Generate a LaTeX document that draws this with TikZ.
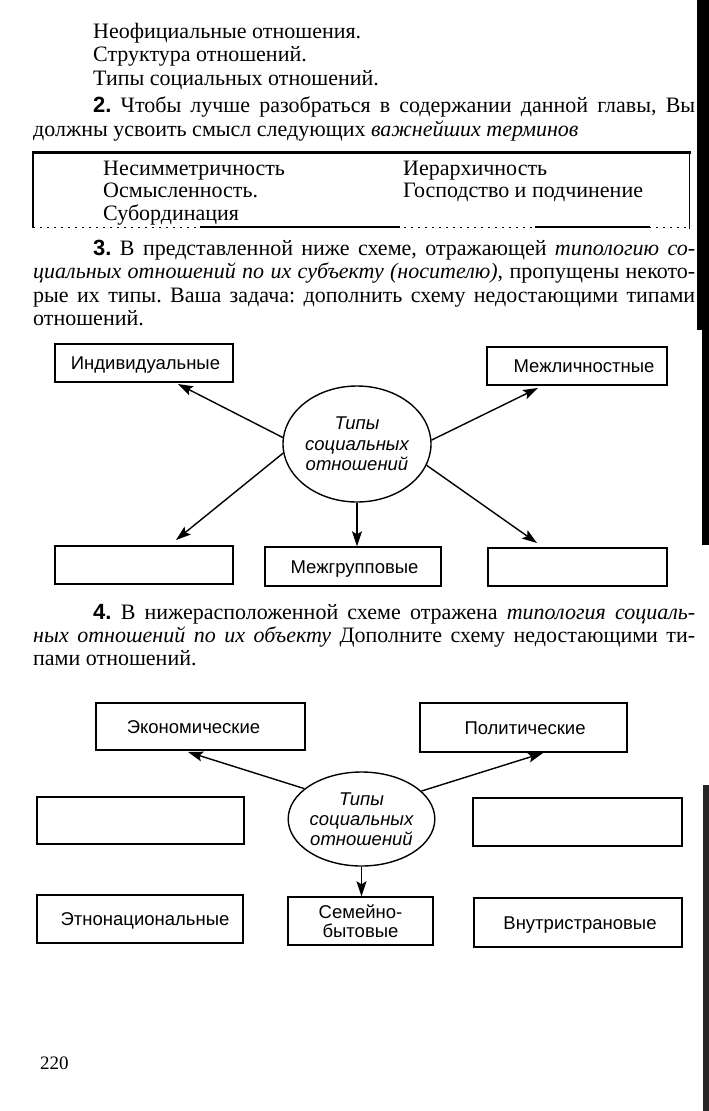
\documentclass[tikz,border=0pt]{standalone}
\usepackage{fontspec}
\setmainfont{Liberation Serif}
\newfontfamily\sansf{Liberation Sans}
\usetikzlibrary{arrows.meta,shapes.geometric}
\frenchspacing
\begin{document}
\begin{tikzpicture}[x=1pt,y=-1pt,
  box/.style={draw, line width=1.4pt, rectangle, inner sep=0pt,
    font=\sansf\fontsize{18.5}{19}\selectfont},
  boxlab/.style={box, text height=13.3pt, text depth=0pt},
  hub/.style={draw, line width=1.4pt, ellipse, inner sep=0pt, align=center,
    font=\sansf\itshape\fontsize{18.5}{20.5}\selectfont},
  conn/.style={line width=1.4pt, -{Stealth[length=15pt,width=10pt,inset=3pt]}},
  body/.style={anchor=base west, inner sep=0pt, font=\fontsize{22}{23}\selectfont}
]
\useasboundingbox (0,0) rectangle (709,1111);
\fill[white] (0,0) rectangle (709,1111);

% right page edge (scan)
\fill[black] (697,0) rectangle (709,330);
\fill[black] (702,330) rectangle (709,545);
\fill[black!85] (703,785) rectangle (709,1111);

% header lines
\node[body] (l1) at (93,38) {Неофициальные отношения.};
\node[body] (l2) at (93,61.5) {Структура отношений.};
\node[body] (l3) at (93,85) {Типы социальных отношений.};
\node[body] (p2a) at (93,112) {\makebox[602pt][s]{{\sansf\bfseries 2.} Чтобы лучше разобраться в содержании данной главы, Вы}};
\node[body] (p2b) at (33,136) {должны усвоить смысл следующих \textit{важнейших терминов}};

% terms frame
\draw[line width=3pt] (31.5,152) -- (690.5,152);
\draw[line width=1.6pt] (33,151) -- (33,228);
\draw[line width=1.6pt] (689.5,151) -- (689.5,229);
\draw[line width=0.9pt, dash pattern=on 2pt off 5pt] (33,227) -- (689,227);
\draw[line width=1.2pt] (200,227) -- (400,227);
\draw[line width=1.2pt] (535,227) -- (650,227);
\node[body] (t1) at (103,175) {Несимметричность};
\node[body] (t2) at (103,197.5) {Осмысленность.};
\node[body] (t3) at (103,220) {Субординация};
\node[body] (t4) at (403,175) {Иерархичность};
\node[body] (t5) at (403,197.5) {Господство и подчинение};

% paragraph 3
\node[body] (p3a) at (93,255) {\makebox[602pt][s]{{\sansf\bfseries 3.} В представленной ниже схеме, отражающей \textit{типологию со-}}};
\node[body] (p3b) at (33,278.5) {\makebox[662pt][s]{\textit{циальных отношений по их субъекту (носителю)}, пропущены некото-}};
\node[body] (p3c) at (33,302) {\makebox[662pt][s]{рые их типы. Ваша задача: дополнить схему недостающими типами}};
\node[body] (p3d) at (33,325) {отношений.};

% diagram 1
\node[hub, minimum width=148pt, minimum height=116pt] (h1) at (357,444) {Типы\\социальных\\отношений};
\node[boxlab, minimum width=178pt, minimum height=38pt] (ind) at (144,363) {\hspace*{3pt}Индивидуальные};
\node[boxlab, minimum width=180pt, minimum height=38pt] (mlc) at (577,366) {\hspace*{14pt}Межличностные};
\node[box, minimum width=178pt, minimum height=38pt] (bl1) at (144,565) {};
\node[boxlab, minimum width=176pt, minimum height=39pt] (mgr) at (353,566.5) {\hspace*{3pt}Межгрупповые};
\node[box, minimum width=179pt, minimum height=38pt] (br1) at (577.5,567) {};
\coordinate (a1) at (178,384);
\coordinate (a2) at (176,540);
\coordinate (a3) at (538,388);
\coordinate (a4) at (537,543);
\draw[conn] (h1.175) -- (a1);
\draw[conn] (h1.187) -- (a2);
\draw[conn] (h1.3) -- (a3);
\draw[conn] (h1.343) -- (a4);
\draw[conn] (h1.south) -- (h1.south |- mgr.north);

% paragraph 4
\node[body] (p4a) at (93,619) {\makebox[602pt][s]{{\sansf\bfseries 4.} В нижерасположенной схеме отражена \textit{типология социаль-}}};
\node[body] (p4b) at (33,642) {\makebox[662pt][s]{\textit{ных отношений по их объекту} Дополните схему недостающими ти-}};
\node[body] (p4c) at (33,665) {пами отношений.};

% diagram 2
\node[hub, minimum width=131pt, minimum height=94pt, font=\sansf\itshape\fontsize{18.5}{20}\selectfont] (h2) at (361.5,819) {Типы\\социальных\\отношений};
\node[boxlab, minimum width=209pt, minimum height=47pt] (eco) at (200.5,726.5) {\hspace*{-14pt}Экономические};
\node[boxlab, minimum width=207pt, minimum height=49pt] (pol) at (523.5,727.5) {\hspace*{3pt}Политические};
\node[box, minimum width=207pt, minimum height=47pt] (bl2) at (140.5,820.5) {};
\node[box, minimum width=209pt, minimum height=48pt] (br2) at (577.5,822) {};
\node[boxlab, minimum width=206pt, minimum height=48pt] (eth) at (140,919) {\hspace*{10pt}Этнонациональные};
\node[box, minimum width=145pt, minimum height=48pt, align=center] (fam) at (360.5,921) {Семейно-\\бытовые};
\node[boxlab, minimum width=208pt, minimum height=49pt] (inn) at (578,922.5) {\hspace*{4pt}Внутристрановые};
\coordinate (b1) at (188,752);
\coordinate (b2) at (543,753);
\draw[conn] (h2.152) -- (b1);
\draw[conn] (h2.25) -- (b2);
\draw[conn] (h2.south) -- (h2.south |- fam.north);

% page number
\node[body, font=\fontsize{19}{20}\selectfont] (pg) at (40,1069) {220};
\end{tikzpicture}
\end{document}
